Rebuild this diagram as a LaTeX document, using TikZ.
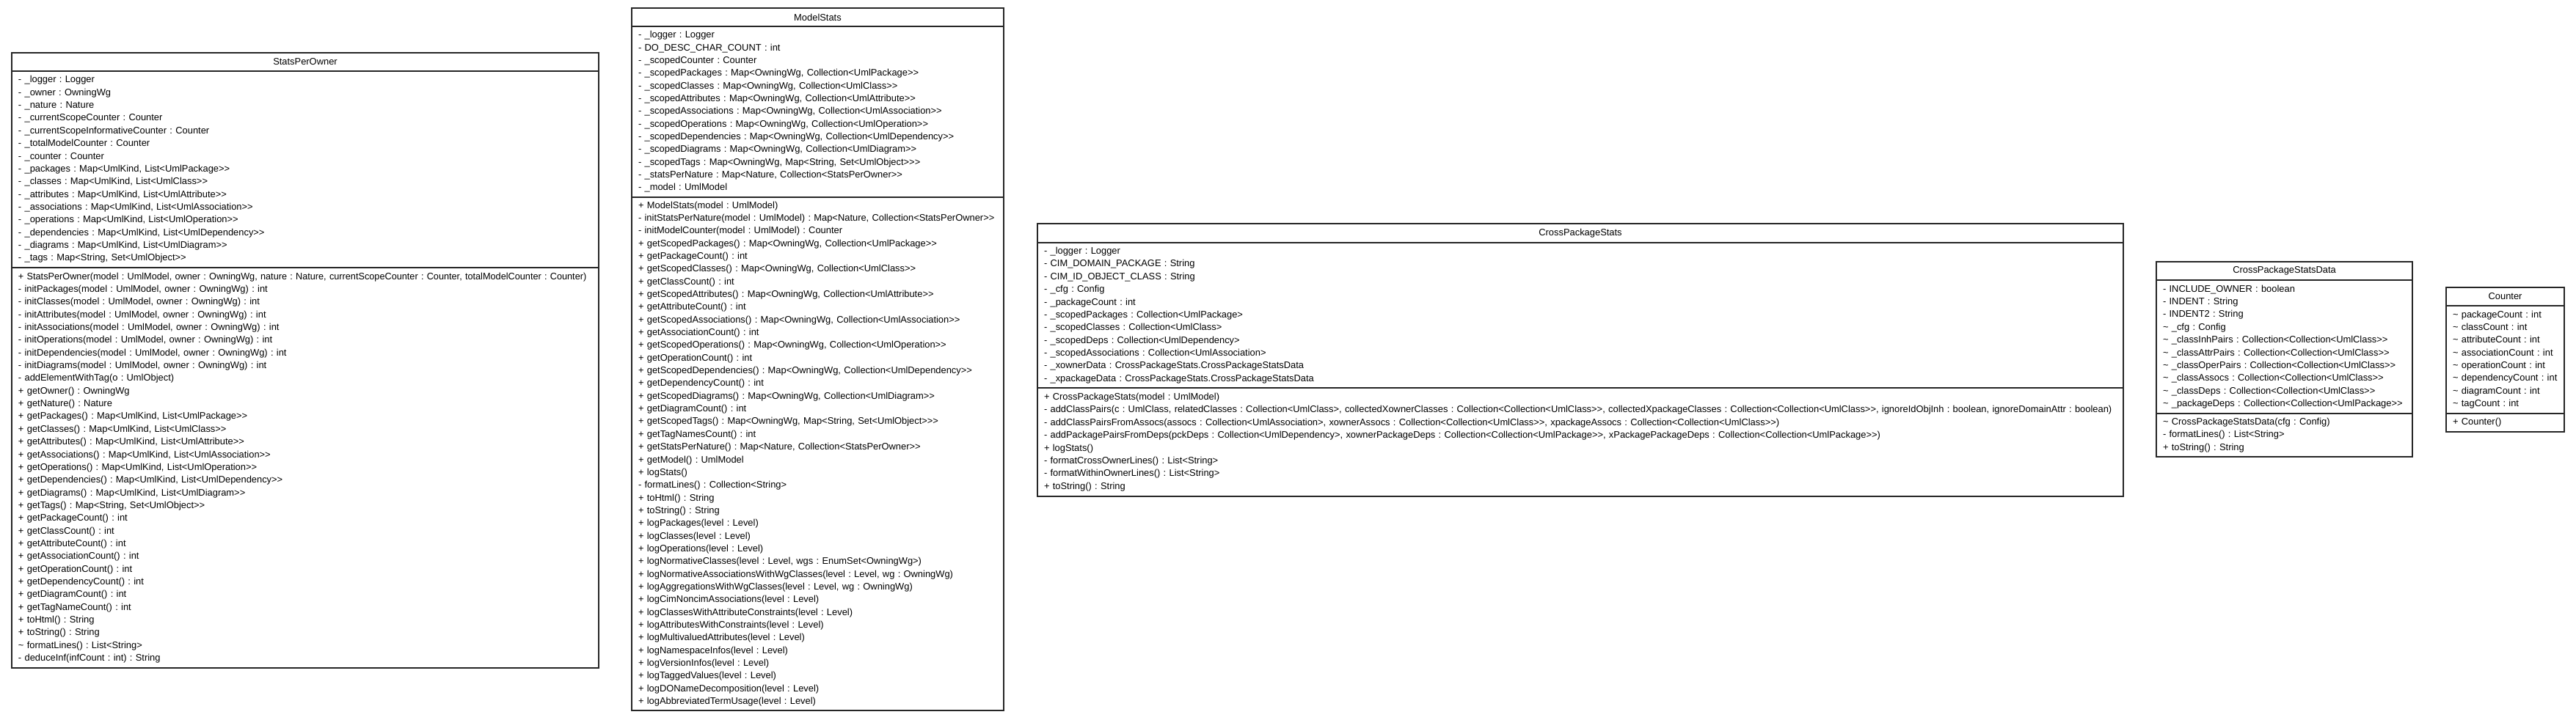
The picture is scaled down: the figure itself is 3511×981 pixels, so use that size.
\documentclass[tikz,border=0pt]{standalone}
\usepackage{fontspec}
\newfontfamily\umlfont{Liberation Sans}
\usetikzlibrary{positioning}
\newcommand{\tld}{\textasciitilde}
\newcommand{\umlsize}{\umlfont\fontsize{6.45pt}{8.67pt}\selectfont\frenchspacing}
\tikzset{
    classhead/.style={draw=black!85,line width=1pt,outer sep=0pt,inner sep=0pt,
                      minimum height=12.5pt,anchor=north west,font=\umlsize},
    members/.style={draw=black!85,line width=1pt,outer sep=0pt,inner xsep=4.5pt,
                    inner ysep=0pt,align=left,font=\umlsize}
}

\begin{document}
\begin{tikzpicture}[x=0.5pt,y=-0.5pt]
    \useasboundingbox (0,0) rectangle (3511,981);

    % StatsPerOwner
    \node[classhead,minimum width=400pt] (spoHead) at (16,72) {StatsPerOwner};
    \node[members,text width=391pt,minimum height=134pt,below=0pt of spoHead] (spoAttrs) {
        - \_logger : Logger\\
        - \_owner : OwningWg\\
        - \_nature : Nature\\
        - \_currentScopeCounter : Counter\\
        - \_currentScopeInformativeCounter : Counter\\
        - \_totalModelCounter : Counter\\
        - \_counter : Counter\\
        - \_packages : Map<UmlKind, List<UmlPackage>>\\
        - \_classes : Map<UmlKind, List<UmlClass>>\\
        - \_attributes : Map<UmlKind, List<UmlAttribute>>\\
        - \_associations : Map<UmlKind, List<UmlAssociation>>\\
        - \_operations : Map<UmlKind, List<UmlOperation>>\\
        - \_dependencies : Map<UmlKind, List<UmlDependency>>\\
        - \_diagrams : Map<UmlKind, List<UmlDiagram>>\\
        - \_tags : Map<String, Set<UmlObject>>
    };
    \node[members,text width=391pt,minimum height=273pt,below=0pt of spoAttrs] (spoOps) {
        \scalebox{0.985}[1]{+ StatsPerOwner(model : UmlModel, owner : OwningWg, nature : Nature, currentScopeCounter : Counter, totalModelCounter : Counter)}\\
        - initPackages(model : UmlModel, owner : OwningWg) : int\\
        - initClasses(model : UmlModel, owner : OwningWg) : int\\
        - initAttributes(model : UmlModel, owner : OwningWg) : int\\
        - initAssociations(model : UmlModel, owner : OwningWg) : int\\
        - initOperations(model : UmlModel, owner : OwningWg) : int\\
        - initDependencies(model : UmlModel, owner : OwningWg) : int\\
        - initDiagrams(model : UmlModel, owner : OwningWg) : int\\
        - addElementWithTag(o : UmlObject)\\
        + getOwner() : OwningWg\\
        + getNature() : Nature\\
        + getPackages() : Map<UmlKind, List<UmlPackage>>\\
        + getClasses() : Map<UmlKind, List<UmlClass>>\\
        + getAttributes() : Map<UmlKind, List<UmlAttribute>>\\
        + getAssociations() : Map<UmlKind, List<UmlAssociation>>\\
        + getOperations() : Map<UmlKind, List<UmlOperation>>\\
        + getDependencies() : Map<UmlKind, List<UmlDependency>>\\
        + getDiagrams() : Map<UmlKind, List<UmlDiagram>>\\
        + getTags() : Map<String, Set<UmlObject>>\\
        + getPackageCount() : int\\
        + getClassCount() : int\\
        + getAttributeCount() : int\\
        + getAssociationCount() : int\\
        + getOperationCount() : int\\
        + getDependencyCount() : int\\
        + getDiagramCount() : int\\
        + getTagNameCount() : int\\
        + toHtml() : String\\
        + toString() : String\\
        \tld{} formatLines() : List<String>\\
        - deduceInf(infCount : int) : String
    };

    % ModelStats
    \node[classhead,minimum width=253.5pt] (msHead) at (861,11) {ModelStats};
    \node[members,text width=244.5pt,minimum height=116.5pt,below=0pt of msHead] (msAttrs) {
        - \_logger : Logger\\
        - DO\_DESC\_CHAR\_COUNT : int\\
        - \_scopedCounter : Counter\\
        - \_scopedPackages : Map<OwningWg, Collection<UmlPackage>>\\
        - \_scopedClasses : Map<OwningWg, Collection<UmlClass>>\\
        - \_scopedAttributes : Map<OwningWg, Collection<UmlAttribute>>\\
        - \_scopedAssociations : Map<OwningWg, Collection<UmlAssociation>>\\
        - \_scopedOperations : Map<OwningWg, Collection<UmlOperation>>\\
        - \_scopedDependencies : Map<OwningWg, Collection<UmlDependency>>\\
        - \_scopedDiagrams : Map<OwningWg, Collection<UmlDiagram>>\\
        - \_scopedTags : Map<OwningWg, Map<String, Set<UmlObject>>>\\
        - \_statsPerNature : Map<Nature, Collection<StatsPerOwner>>\\
        - \_model : UmlModel
    };
    \node[members,text width=244.5pt,minimum height=350pt,below=0pt of msAttrs] (msOps) {
        + ModelStats(model : UmlModel)\\
        - initStatsPerNature(model : UmlModel) : Map<Nature, Collection<StatsPerOwner>>\\
        - initModelCounter(model : UmlModel) : Counter\\
        + getScopedPackages() : Map<OwningWg, Collection<UmlPackage>>\\
        + getPackageCount() : int\\
        + getScopedClasses() : Map<OwningWg, Collection<UmlClass>>\\
        + getClassCount() : int\\
        + getScopedAttributes() : Map<OwningWg, Collection<UmlAttribute>>\\
        + getAttributeCount() : int\\
        + getScopedAssociations() : Map<OwningWg, Collection<UmlAssociation>>\\
        + getAssociationCount() : int\\
        + getScopedOperations() : Map<OwningWg, Collection<UmlOperation>>\\
        + getOperationCount() : int\\
        + getScopedDependencies() : Map<OwningWg, Collection<UmlDependency>>\\
        + getDependencyCount() : int\\
        + getScopedDiagrams() : Map<OwningWg, Collection<UmlDiagram>>\\
        + getDiagramCount() : int\\
        + getScopedTags() : Map<OwningWg, Map<String, Set<UmlObject>>>\\
        + getTagNamesCount() : int\\
        + getStatsPerNature() : Map<Nature, Collection<StatsPerOwner>>\\
        + getModel() : UmlModel\\
        + logStats()\\
        - formatLines() : Collection<String>\\
        + toHtml() : String\\
        + toString() : String\\
        + logPackages(level : Level)\\
        + logClasses(level : Level)\\
        + logOperations(level : Level)\\
        + logNormativeClasses(level : Level, wgs : EnumSet<OwningWg>)\\
        + logNormativeAssociationsWithWgClasses(level : Level, wg : OwningWg)\\
        + logAggregationsWithWgClasses(level : Level, wg : OwningWg)\\
        + logCimNoncimAssociations(level : Level)\\
        + logClassesWithAttributeConstraints(level : Level)\\
        + logAttributesWithConstraints(level : Level)\\
        + logMultivaluedAttributes(level : Level)\\
        + logNamespaceInfos(level : Level)\\
        + logVersionInfos(level : Level)\\
        + logTaggedValues(level : Level)\\
        + logDONameDecomposition(level : Level)\\
        + logAbbreviatedTermUsage(level : Level)
    };

    % CrossPackageStats
    \node[classhead,minimum width=740pt,minimum height=13pt] (cpsHead) at (1414,305) {CrossPackageStats};
    \node[members,text width=731pt,minimum height=99pt,below=0pt of cpsHead] (cpsAttrs) {
        - \_logger : Logger\\
        - CIM\_DOMAIN\_PACKAGE : String\\
        - CIM\_ID\_OBJECT\_CLASS : String\\
        - \_cfg : Config\\
        - \_packageCount : int\\
        - \_scopedPackages : Collection<UmlPackage>\\
        - \_scopedClasses : Collection<UmlClass>\\
        - \_scopedDeps : Collection<UmlDependency>\\
        - \_scopedAssociations : Collection<UmlAssociation>\\
        - \_xownerData : CrossPackageStats.CrossPackageStatsData\\
        - \_xpackageData : CrossPackageStats.CrossPackageStatsData
    };
    \node[members,text width=731pt,minimum height=74pt,below=0pt of cpsAttrs] (cpsOps) {
        + CrossPackageStats(model : UmlModel)\\
        - addClassPairs(c : UmlClass, relatedClasses : Collection<UmlClass>, collectedXownerClasses : Collection<Collection<UmlClass>>, collectedXpackageClasses : Collection<Collection<UmlClass>>, ignoreIdObjInh : boolean, ignoreDomainAttr : boolean)\\
        - addClassPairsFromAssocs(assocs : Collection<UmlAssociation>, xownerAssocs : Collection<Collection<UmlClass>>, xpackageAssocs : Collection<Collection<UmlClass>>)\\
        - addPackagePairsFromDeps(pckDeps : Collection<UmlDependency>, xownerPackageDeps : Collection<Collection<UmlPackage>>, xPackagePackageDeps : Collection<Collection<UmlPackage>>)\\
        + logStats()\\
        - formatCrossOwnerLines() : List<String>\\
        - formatWithinOwnerLines() : List<String>\\
        + toString() : String
    };

    % CrossPackageStatsData
    \node[classhead,minimum width=174.5pt] (dataHead) at (2939,357) {CrossPackageStatsData};
    \node[members,text width=165.5pt,minimum height=91pt,below=0pt of dataHead] (dataAttrs) {
        - INCLUDE\_OWNER : boolean\\
        - INDENT : String\\
        - INDENT2 : String\\
        \tld{} \_cfg : Config\\
        \tld{} \_classInhPairs : Collection<Collection<UmlClass>>\\
        \tld{} \_classAttrPairs : Collection<Collection<UmlClass>>\\
        \tld{} \_classOperPairs : Collection<Collection<UmlClass>>\\
        \tld{} \_classAssocs : Collection<Collection<UmlClass>>\\
        \tld{} \_classDeps : Collection<Collection<UmlClass>>\\
        \tld{} \_packageDeps : Collection<Collection<UmlPackage>>
    };
    \node[members,text width=165.5pt,minimum height=29.5pt,below=0pt of dataAttrs] (dataOps) {
        \tld{} CrossPackageStatsData(cfg : Config)\\
        - formatLines() : List<String>\\
        + toString() : String
    };

    % Counter
    \node[classhead,minimum width=80.5pt] (cntHead) at (3334,392) {Counter};
    \node[members,text width=71.5pt,minimum height=73.5pt,below=0pt of cntHead] (cntAttrs) {
        \tld{} packageCount : int\\
        \tld{} classCount : int\\
        \tld{} attributeCount : int\\
        \tld{} associationCount : int\\
        \tld{} operationCount : int\\
        \tld{} dependencyCount : int\\
        \tld{} diagramCount : int\\
        \tld{} tagCount : int
    };
    \node[members,text width=71.5pt,minimum height=12.5pt,below=0pt of cntAttrs] (cntOps) {
        + Counter()
    };
\end{tikzpicture}
\end{document}
